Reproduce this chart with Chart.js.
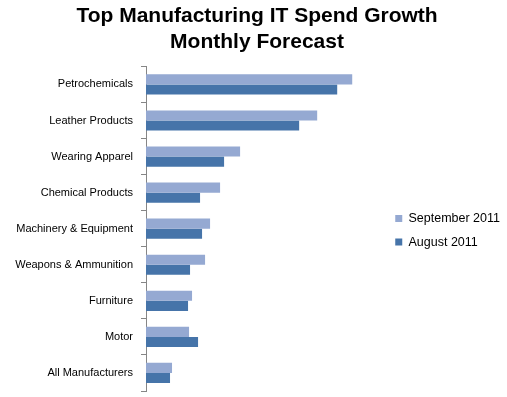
<!DOCTYPE html>
<html>
<head>
<meta charset="utf-8">
<script src="https://cdn.jsdelivr.net/npm/chart.js@4"></script>
<style>
  html, body { margin: 0; padding: 0; background: #fff; overflow: hidden; }
  canvas { display: block; }
</style>
</head>
<body>
<canvas id="chart" width="507" height="397"></canvas>
<script>
// categories, top to bottom
const categories = [
    'Petrochemicals', 'Leather Products', 'Wearing Apparel', 'Chemical Products',
    'Machinery & Equipment', 'Weapons & Ammunition', 'Furniture', 'Motor', 'All Manufacturers'
];
// growth values (relative units)
const september2011 = [206, 171, 94, 74, 64, 59, 46, 43, 26];
const august2011 = [191, 153, 78, 54, 56, 44, 42, 52, 24];
const seriesNames = ['September 2011', 'August 2011'];

const axisGrey = '#868686';
const fontFamily = 'Liberation Sans, Arial, sans-serif';

new Chart(document.getElementById('chart'), {
    type: 'bar',
    data: {
        labels: categories,
        datasets: [
            { label: seriesNames[0], data: september2011, backgroundColor: '#95A9D2', categoryPercentage: 0.56, barPercentage: 1.0 },
            { label: seriesNames[1], data: august2011, backgroundColor: '#4674A9', categoryPercentage: 0.56, barPercentage: 1.0 }
        ]
    },
    options: {
        indexAxis: 'y',
        responsive: false,
        animation: false,
        layout: { padding: { left: 4, right: -3, top: 0, bottom: 6 } },
        plugins: {
            title: {
                display: true,
                text: ['Top Manufacturing IT Spend Growth', 'Monthly Forecast'],
                font: { family: fontFamily, size: 21, weight: 'bold', lineHeight: 1.2 },
                color: '#000',
                padding: { top: 4, bottom: 12 }
            },
            legend: {
                position: 'right',
                // empty title used only to push the entries down to mid-plot
                title: { display: true, text: ' ', font: { size: 8 }, padding: { top: 0, bottom: 60 } },
                labels: {
                    boxWidth: 7,
                    boxHeight: 7,
                    padding: 11,
                    color: '#000',
                    font: { family: fontFamily, size: 12.5 }
                }
            },
            tooltip: { enabled: false }
        },
        scales: {
            x: {
                display: false,
                min: 0,
                max: 238
            },
            y: {
                afterFit: function(scale) {
                    scale.width = 142;
                    // labels sit mid-category, so no extra room is needed above/below
                    scale.paddingTop = 0;
                    scale.paddingBottom = 0;
                },
                grid: {
                    drawOnChartArea: false,
                    tickLength: 5,
                    color: axisGrey
                },
                border: { color: axisGrey, width: 1 },
                ticks: {
                    color: '#000',
                    padding: 8,
                    font: { family: fontFamily, size: 11 }
                }
            }
        }
    }
});
</script>
</body>
</html>
